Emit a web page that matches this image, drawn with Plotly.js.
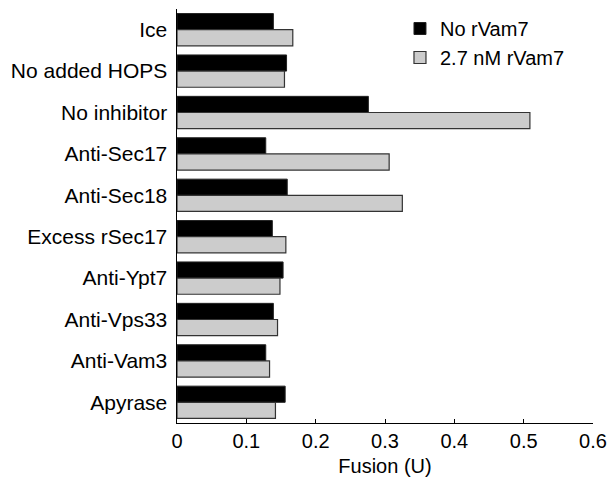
<!DOCTYPE html>
<html>
<head>
<meta charset="utf-8">
<script src="https://cdn.plot.ly/plotly-3.0.1.min.js"></script>
<style>html,body{margin:0;padding:0;background:#fff;}#chart{width:608px;height:479px;}</style>
</head>
<body>
<div id="chart"></div>
<script>
var categories = ["Ice", "No added HOPS", "No inhibitor", "Anti-Sec17", "Anti-Sec18",
  "Excess rSec17", "Anti-Ypt7", "Anti-Vps33", "Anti-Vam3", "Apyrase"];
var noRVam7 = [0.139, 0.158, 0.276, 0.128, 0.159, 0.1375, 0.153, 0.139, 0.128, 0.156];
var rVam7_27nM = [0.167, 0.155, 0.509, 0.306, 0.325, 0.157, 0.1485, 0.145, 0.1335, 0.142];
var seriesNames = ["No rVam7", "2.7 nM rVam7"];
var xTicks = [0, 0.1, 0.2, 0.3, 0.4, 0.5, 0.6];

var fam = "Liberation Sans, Arial, Helvetica, sans-serif";
var font = {family: fam, size: 20, color: "#000"};
var catFont = {family: fam, size: 21, color: "#000"};

var traces = [
  {type: "bar", orientation: "h", name: seriesNames[0], y: categories, x: noRVam7,
   marker: {color: "#000000", line: {color: "#222222", width: 1}}},
  {type: "bar", orientation: "h", name: seriesNames[1], y: categories, x: rVam7_27nM,
   marker: {color: "#cccccc", line: {color: "#333333", width: 1.2}}}
];

var layout = {
  width: 608, height: 479,
  margin: {l: 177, r: 15, t: 9, b: 56, autoexpand: false},
  paper_bgcolor: "#fff", plot_bgcolor: "#fff",
  font: font,
  barmode: "group",
  bargap: 0.22,
  bargroupgap: 0,
  showlegend: true,
  legend: {x: 0.536, y: 1.0, xanchor: "left", yanchor: "top", traceorder: "normal",
           font: font, bgcolor: "rgba(0,0,0,0)", tracegroupgap: 0},
  xaxis: {range: [0, 0.6], tickvals: xTicks, ticktext: xTicks.map(String),
          ticks: "inside", ticklen: 4, tickcolor: "#000", showline: true, linecolor: "#000",
          linewidth: 1, showgrid: false, zeroline: false, tickfont: font,
          title: {text: "Fusion (U)", font: font, standoff: 7}},
  yaxis: {type: "category", autorange: "reversed", showline: true, linecolor: "#000",
          linewidth: 1.5, ticks: "", showgrid: false, zeroline: false, tickfont: catFont,
          ticklabelstandoff: 4}
};

Plotly.newPlot("chart", traces, layout, {displayModeBar: false, staticPlot: true});
</script>
</body>
</html>
